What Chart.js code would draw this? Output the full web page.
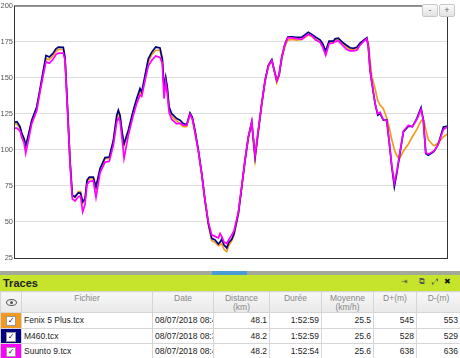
<!DOCTYPE html>
<html>
<head>
<meta charset="utf-8">
<script src="https://cdn.jsdelivr.net/npm/chart.js@4.4.1/dist/chart.umd.min.js"></script>
<style>
body{margin:0;width:460px;height:358px;overflow:hidden;background:#fff;font-family:"Liberation Sans",Arial,sans-serif;position:relative}
#graph{position:absolute;left:0;top:0}
.zoom{position:absolute;top:4px;left:422px;height:12px;display:flex;background:#fff}
.zoom span{display:block;width:14px;height:11px;border:1px solid #c8c8c8;border-radius:2px;background:linear-gradient(#fafafa,#e2e2e2);color:#666;font-size:9px;line-height:10px;text-align:center;margin-right:1px}
.barre{position:absolute;left:0;top:271px;width:460px;height:4px;background:#a4aa98}
.barre div{position:absolute;left:212px;top:0;width:35px;height:4px;background:#4a9ad6}
.titre{position:absolute;left:0;top:275px;width:460px;height:16px;background:#c6e42c}
.titre b{position:absolute;left:3px;top:2px;font-size:11px;color:#222}
.titre i{position:absolute;top:2px;font-style:normal;font-size:8px;color:#555;font-family:"DejaVu Sans",sans-serif}
table{position:absolute;left:0;top:291px;width:460px;border-collapse:collapse;table-layout:fixed;font-size:8.5px}
tr.h{height:21px}
tr.r{height:15.5px}
th{background:linear-gradient(#f7f7f7,#e9e9e9);color:#888;font-weight:normal;vertical-align:top;padding:2px 0 0;line-height:9px;border:1px solid #d6d6d6;overflow:hidden;white-space:nowrap}
td{padding:0 2px;line-height:12px;color:#222;border:1px solid #d6d6d6;white-space:nowrap;overflow:hidden}
td.n{text-align:right}
td.c{padding:0;position:relative}
.case{position:absolute;left:5px;top:3px;width:8px;height:8px;background:#fff;border:1px solid #999;font-size:8px;line-height:8px;text-align:center;color:#223;font-family:"DejaVu Sans",sans-serif}
.oeil{display:inline-block;margin-top:5px;width:9px;height:5px;border:1px solid #555;border-radius:50%;position:relative}
.oeil:after{content:"";position:absolute;left:3px;top:1px;width:3px;height:3px;border-radius:50%;background:#555}
</style>
</head>
<body>
<canvas id="graph" width="460" height="270"></canvas>
<div class="zoom"><span>-</span><span>+</span></div>
<div class="barre"><div></div></div>
<div class="titre"><b>Traces</b><i style="left:401px">⇥</i><i style="left:419px">⧉</i><i style="left:432px">⤢</i><i style="left:444px;color:#111;font-weight:bold">✖</i></div>
<table id="traces"></table>
<script>
// temps en secondes depuis le départ
const temps = [0,47,94,125,156,183,223,277,355,406,
  458,500,552,605,656,692,770,797,833,875,
  911,953,1005,1039,1073,1109,1141,1177,1239,1281,
  1344,1422,1489,1552,1605,1630,1656,1692,1719,1786,
  1864,1917,1969,1995,2047,2098,2152,2214,2281,2317,
  2344,2370,2395,2422,2464,2542,2594,2645,2698,2750,
  2786,2828,2880,2933,2984,3036,3089,3141,3192,3219,
  3245,3281,3323,3359,3402,3438,3505,3558,3609,3661,
  3714,3766,3817,3870,3922,3973,4027,4067,4105,4141,
  4183,4234,4277,4339,4417,4495,4547,4598,4652,4714,
  4781,4823,4870,4922,4989,5016,5067,5130,5198,5250,
  5302,5355,5406,5458,5511,5536,5563,5589,5641,5683,
  5719,5770,5823,5864,5902,5942,5980,6020,6083,6161,
  6223,6292,6359,6395,6433,6473,6552,6578,6630,6708,
  6773];

// fréquence cardiaque (bpm)
const fenix = [118,118,115,110,107,102,109,120,129,141,
  154,163,162.5,165,168,169.5,169.5,163,131,92,
  68,67,71,71,63,65,78,80,80,73,
  86,94,94,105,122,126,123,110,103,112.5,
  126,134,140,138.5,150,161,166,169,169,162,
  142,149,142,128,123,120,118,116,116,125,
  121,112,99,82,64,48,37,36,33.5,34,
  35,31,29.5,34,37,41,55,74,92,108,
  118,93,112,131,147,157.5,162,154,146.5,151,
  163,172,176,176.5,176,176.5,178,179.5,178.5,176.5,
  175,172,168,174,174.5,176,176.5,174,171,169.5,
  169.5,170,173,175,177,174,162,151,142.4,134,
  131,128.5,122,115,107,100,96,93.5,99,104,
  109,114,120,121.5,114,107,103,103,105,109,
  111];

const m460 = [119,119.5,116,111,108,103,110,120.5,129.7,142,
  155,165.4,164.3,166.6,170,171.2,171,164,132,92.8,
  68.6,67.4,70.2,70,64,66,79,81,81,74.4,
  87,94.6,95,106.6,124,127.4,124,111.3,104.3,113.5,
  127.4,135.5,142.4,140,151.6,163,167.7,171.2,170.6,163,
  143.5,150.4,143.5,129.7,125,121.6,120.5,118.2,117.5,125.5,
  122.6,113.5,99.7,83.6,65.1,49,38.6,37.5,34.7,36,
  38,34,32,36,38,42,56,74.4,92.8,108.9,
  119.3,95.1,113.5,132,148.1,158.5,162.4,155,148,152,
  164.3,173.5,178.1,178.3,178,178,179.7,181.5,180,178,
  176.2,173.5,168.4,175.3,175.3,177,177.3,174.6,172.3,170.7,
  170.3,171,174,175.8,177.6,171,155,147,132,124,
  125,120.5,120.5,104.3,88.2,74.4,83.6,95,112.4,116.3,
  116,121.6,129.2,120.5,97.4,96.3,98.5,100,104.3,115.8,
  116.4];

const suunto = [115,115,113,108,105,97.5,106,118,127,140,
  152,161,160,162.5,166,167,167,162,130,91,
  66,64.5,67.5,68,57,62,76,78,78.5,67,
  84,91.5,92,103,119,122,120,106,94,110,
  124,132,138,137,148,158,162,165,164,160,
  135.5,147,139,126,121,118,118.5,117,117,124.5,
  121.5,112,99,83,65,50,41,40,39,42,
  40,36,35,38,41,44,57,75,93,109,
  119.5,96,114,132,148,158,162,155,148,152,
  164,173.5,177.5,177.5,177,176.5,178.5,180,179,176,
  174.5,171,165.5,173.5,174,175,175.5,172.5,169.5,168.5,
  168.5,169,172.5,175,177,171,155,147,132,125,
  126,121,120,105,89,77,85,96,113,117,
  116,121,128,120,98,97,99,100,104,114,
  116];

const fichiers = ['Fenix 5 Plus.tcx', 'M460.tcx', 'Suunto 9.tcx'];
const dates = ['08/07/2018 08:4', '08/07/2018 08:3', '08/07/2018 08:4'];
const distances = ['48.1', '48.2', '48.2'];
const durees = ['1:52:59', '1:52:59', '1:52:54'];
const moyennes = ['25.5', '25.6', '25.6'];
const denivPos = [545, 528, 638];
const denivNeg = [553, 529, 636];
const couleurs = ['#f39a1e', '#000080', '#ff00ff'];

function formatTemps(s) {
  var h = Math.floor(s / 3600);
  var m = Math.floor((s % 3600) / 60);
  var sec = s % 60;
  var mm = (m < 10 ? '0' : '') + m;
  var ss = (sec < 10 ? '0' : '') + sec;
  return h > 0 ? h + ':' + mm + ':' + ss : m + ':' + ss;
}

function points(serie) {
  return temps.map(function (t, i) { return { x: t, y: serie[i] }; });
}

// cadre autour de la zone de tracé
const cadre = {
  id: 'cadre',
  afterDraw: function (chart) {
    var a = chart.chartArea;
    var ctx = chart.ctx;
    ctx.save();
    ctx.strokeStyle = '#333';
    ctx.lineWidth = 1;
    ctx.strokeRect(a.left + 0.5, a.top + 0.5, a.right - a.left - 1, a.bottom - a.top);
    ctx.restore();
  }
};

const police = { family: '"Liberation Sans", Arial, sans-serif', size: 7.5 };

new Chart(document.getElementById('graph'), {
  type: 'line',
  data: {
    datasets: [
      { label: 'Suunto 9', data: points(suunto), borderColor: couleurs[2], order: 0 },
      { label: 'M460', data: points(m460), borderColor: couleurs[1], order: 1 },
      { label: 'Fenix 5 Plus', data: points(fenix), borderColor: couleurs[0], order: 2 }
    ]
  },
  options: {
    responsive: false,
    animation: false,
    elements: {
      line: { borderWidth: 1.7, tension: 0 },
      point: { radius: 0 }
    },
    layout: { padding: { top: 5, right: 12, left: 0, bottom: 0 } },
    plugins: { legend: { display: false }, tooltip: { enabled: false } },
    scales: {
      x: {
        type: 'linear',
        min: 0,
        max: 6780,
        afterFit: function (s) { s.height = 12; },
        afterBuildTicks: function (s) {
          s.ticks = s.ticks.filter(function (t) { return t.value > 0 && t.value % 1000 === 0; });
        },
        grid: { color: '#dedede', drawTicks: false },
        border: { display: false },
        ticks: { stepSize: 1000, padding: 3, color: '#555', font: police, maxRotation: 0, callback: function (v) { return formatTemps(v); } }
      },
      y: {
        min: 25,
        max: 200,
        afterFit: function (s) { s.width = 14; },
        grid: { color: '#dedede', drawTicks: false },
        border: { display: false },
        ticks: { stepSize: 25, padding: 1, color: '#555', font: police }
      }
    }
  },
  plugins: [cadre]
});

// tableau des traces
var html = '<colgroup><col style="width:21px"><col style="width:131px"><col style="width:61px"><col style="width:56px">' +
  '<col style="width:52px"><col style="width:52px"><col style="width:43px"><col style="width:44px"></colgroup>' +
  '<tr class="h"><th><span class="oeil"></span></th><th>Fichier</th><th>Date</th><th>Distance<br>(km)</th><th>Durée</th>' +
  '<th>Moyenne<br>(km/h)</th><th>D+(m)</th><th>D-(m)</th></tr>';
for (var i = 0; i < fichiers.length; i++) {
  html += '<tr class="r"><td class="c" style="background:' + couleurs[i] + '"><div class="case">✓</div></td>' +
    '<td>' + fichiers[i] + '</td><td>' + dates[i] + '</td><td class="n">' + distances[i] + '</td>' +
    '<td class="n">' + durees[i] + '</td><td class="n">' + moyennes[i] + '</td>' +
    '<td class="n">' + denivPos[i] + '</td><td class="n">' + denivNeg[i] + '</td></tr>';
}
document.getElementById('traces').innerHTML = html;
</script>
</body>
</html>
